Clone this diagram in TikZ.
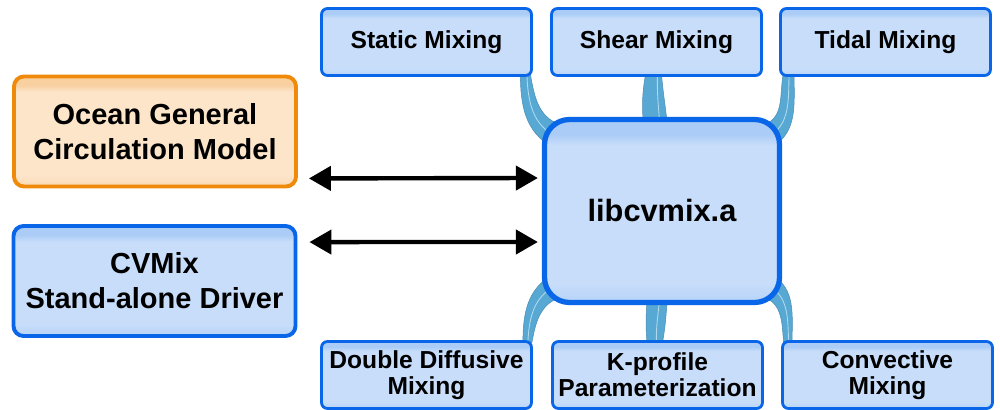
\documentclass[tikz,border=0pt]{standalone}
\usepackage{fontspec}
\setmainfont{Liberation Sans}
\usetikzlibrary{arrows.meta, backgrounds}

\definecolor{boxline}{RGB}{10,102,232}
\definecolor{boxtop}{RGB}{170,204,246}
\definecolor{boxmid}{RGB}{199,221,250}
\definecolor{ogcmline}{RGB}{240,138,10}
\definecolor{ogcmtop}{RGB}{249,208,160}
\definecolor{ogcmmid}{RGB}{253,229,202}
\definecolor{bandblue}{RGB}{88,168,212}
\definecolor{bandlight}{RGB}{175,218,238}

\pgfdeclareverticalshading{boxshade}{100bp}{color(0bp)=(boxtop!60!boxmid); color(25bp)=(boxtop!60!boxmid); color(30bp)=(boxmid); color(68bp)=(boxmid); color(71bp)=(boxtop); color(100bp)=(boxtop)}
\pgfdeclareverticalshading{ogcmshade}{100bp}{color(0bp)=(ogcmtop!60!ogcmmid); color(25bp)=(ogcmtop!60!ogcmmid); color(30bp)=(ogcmmid); color(68bp)=(ogcmmid); color(71bp)=(ogcmtop); color(100bp)=(ogcmtop)}

\begin{document}
\begin{tikzpicture}[
	smallbox/.style={draw=boxline, line width=1.6pt, rounded corners=0.12cm, shading=boxshade, minimum width=4.2cm, minimum height=1.34cm, align=center, inner sep=1pt, font=\bfseries\fontsize{14}{15}\selectfont},
	sidebox/.style={smallbox, line width=2.2pt, rounded corners=0.2cm, minimum width=5.64cm, minimum height=2.2cm, font=\bfseries\fontsize{16.5}{20}\selectfont},
	libbox/.style={smallbox, line width=3pt, rounded corners=0.5cm, minimum width=4.7cm, minimum height=3.66cm, font=\bfseries\fontsize{17.5}{20}\selectfont},
	band/.style={fill=bandblue, draw=bandblue!85!black, line width=0.3pt},
	stripe/.style={draw=bandlight, line width=0.5pt},
	twoway/.style={{Triangle[length=0.44cm,width=0.48cm]}-{Triangle[length=0.44cm,width=0.48cm]}, line width=2.5pt, black}
	]
		\useasboundingbox (0,0) rectangle (20,-8.2);

		\node[sidebox, draw=ogcmline, shading=ogcmshade] (ogcm) at (3.1,-2.63) {Ocean General\\Circulation Model};
		\node[sidebox] (driver) at (3.09,-5.62) {CVMix\\Stand-alone Driver};
		\node[libbox] (lib) at (13.24,-4.22) {libcvmix.a};

		\node[smallbox] (static) at (8.53,-0.84) {Static Mixing};
		\node[smallbox] (shear) at (13.13,-0.84) {Shear Mixing};
		\node[smallbox] (tidal) at (17.71,-0.84) {Tidal Mixing};

		\node[smallbox] (ddm) at (8.53,-7.5) {Double Diffusive\\Mixing};
		\node[smallbox] (kpp) at (13.15,-7.5) {K-profile\\Parameterization};
		\node[smallbox] (conv) at (17.75,-7.5) {Convective\\Mixing};

		\begin{scope}[on background layer]
			% bands above libcvmix.a
			\filldraw[band] ([shift={(-0.25,0.05)}]static.south east) to[out=-90,in=150] ([shift={(0.2,-0.6)}]lib.north west)
				-- ([shift={(0.35,-0.15)}]lib.north west) to[out=160,in=-80] ([shift={(-0.05,0.05)}]static.south east) -- cycle;
			\draw[stripe] ([shift={(-0.12,0.05)}]static.south east) to[out=-88,in=155] ([shift={(0.3,-0.4)}]lib.north west);
			\filldraw[band] ([shift={(-0.22,0.05)}]shear.south) to[out=-100,in=95] ([shift={(-0.36,-0.3)}]lib.north)
				-- ([shift={(0.12,-0.3)}]lib.north) to[out=95,in=-85] ([shift={(0.1,0.05)}]shear.south) -- cycle;
			\draw[stripe] ([shift={(0.02,0.05)}]shear.south) to[out=-92,in=92] ([shift={(-0.04,-0.3)}]lib.north);
			\filldraw[band] ([shift={(0.3,0.05)}]tidal.south west) to[out=-90,in=30] ([shift={(-0.2,-0.6)}]lib.north east)
				-- ([shift={(-0.35,-0.15)}]lib.north east) to[out=20,in=-100] ([shift={(0.08,0.05)}]tidal.south west) -- cycle;
			\draw[stripe] ([shift={(0.2,0.05)}]tidal.south west) to[out=-92,in=25] ([shift={(-0.3,-0.4)}]lib.north east);
			% bands below libcvmix.a
			\filldraw[band] ([shift={(-0.2,-0.05)}]ddm.north east) to[out=90,in=210] ([shift={(0.2,0.6)}]lib.south west)
				-- ([shift={(0.35,0.15)}]lib.south west) to[out=200,in=80] ([shift={(-0.02,-0.05)}]ddm.north east) -- cycle;
			\draw[stripe] ([shift={(-0.1,-0.05)}]ddm.north east) to[out=88,in=205] ([shift={(0.3,0.4)}]lib.south west);
			\filldraw[band] ([shift={(-0.21,-0.05)}]kpp.north) to[out=95,in=-95] ([shift={(-0.28,0.3)}]lib.south)
				-- ([shift={(0.12,0.3)}]lib.south) to[out=-95,in=80] ([shift={(0.1,-0.05)}]kpp.north) -- cycle;
			\draw[stripe] ([shift={(-0.02,-0.05)}]kpp.north) to[out=92,in=-92] ([shift={(-0.04,0.3)}]lib.south);
			\filldraw[band] ([shift={(0.22,-0.05)}]conv.north west) to[out=90,in=-30] ([shift={(-0.2,0.6)}]lib.south east)
				-- ([shift={(-0.35,0.15)}]lib.south east) to[out=-20,in=95] ([shift={(0.05,-0.05)}]conv.north west) -- cycle;
			\draw[stripe] ([shift={(0.15,-0.05)}]conv.north west) to[out=92,in=-25] ([shift={(-0.3,0.4)}]lib.south east);
		\end{scope}

		\draw[twoway] ([shift={(0.22,0.2)}]ogcm.south east) -- ([shift={(-0.08,0.66)}]lib.west);
		\draw[twoway] ([shift={(0.24,-0.36)}]driver.north east) -- ([shift={(-0.08,-0.62)}]lib.west);
	\end{tikzpicture}
\end{document}
